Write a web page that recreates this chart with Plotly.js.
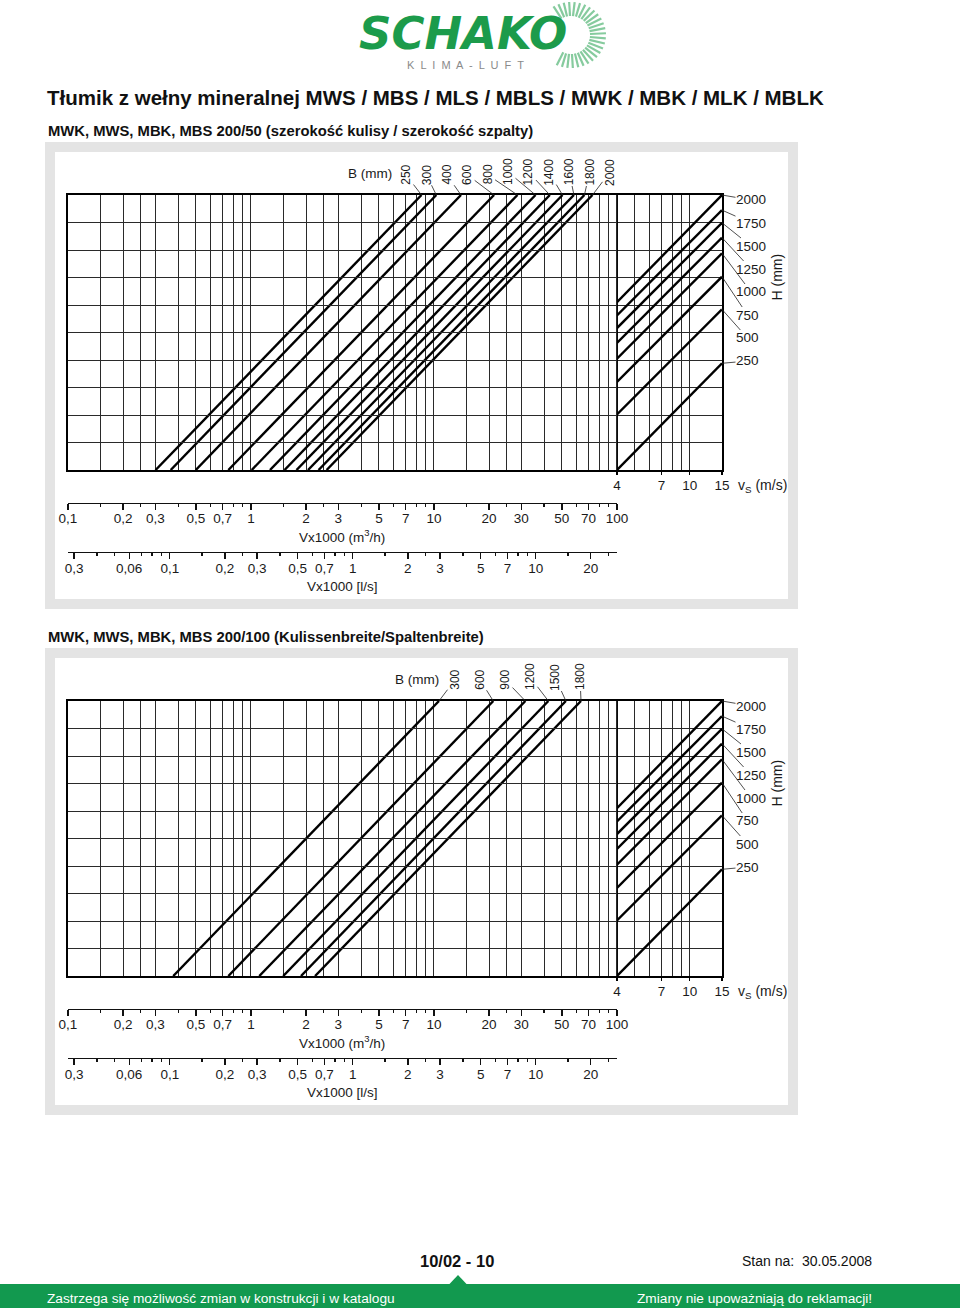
<!DOCTYPE html>
<html><head><meta charset="utf-8">
<script src="https://cdn.plot.ly/plotly-3.0.1.min.js"></script>
<style>html,body{margin:0;padding:0;background:#fff}#chart{width:960px;height:1308px}</style>
</head><body><div id="chart"></div>
<script>
// ================= DATA =================
// Chart 1: MWK, MWS, MBK, MBS 200/50 — B lines: flow Vx1000 (m3/h) at bottom and top edge
const bWidths1  = [250, 300, 400, 600, 800, 1000, 1200, 1400, 1600, 1800, 2000];
const bVBottom1 = [0.301, 0.364, 0.499, 0.752, 1.009, 1.27, 1.525, 1.773, 2.05, 2.34, 2.59];
const bVTop1    = [8.55, 10.3, 14.05, 21.3, 28.6, 35.9, 43.0, 50.4, 58.2, 66.4, 73.5];
// Chart 2: MWK, MWS, MBK, MBS 200/100
const bWidths2  = [300, 600, 900, 1200, 1500, 1800];
const bVBottom2 = [0.376, 0.752, 1.11, 1.50, 1.876, 2.24];
const bVTop2    = [10.65, 21.1, 31.6, 42.2, 52.6, 63.6];
// H lines (same in both charts), on the v_s scale between 4 and 15 m/s (grid units 0..10)
const hHeights  = [2000, 1750, 1500, 1250, 1000, 750, 500, 250];
const hYAtVs4   = [6.1, 5.62, 5.16, 4.62, 4.05, 3.2, 2.02, 0.0];
const hYAtVs15  = [10.0, 9.45, 8.99, 8.45, 7.88, 7.03, 5.84, 3.88];
const vsEnds    = [4, 15];
// grid / ticks
const gridV     = [0.1,0.15,0.2,0.25,0.3,0.4,0.5,0.6,0.7,0.8,0.9,1,1.5,2,2.5,3,4,5,6,7,8,9,10,15,20,25,30,40,50,60,70,80,90,100];
const vsTicks   = [4, 7, 10, 15];
const vsLabels  = ['4', '7', '10', '15'];
const vsMinor   = [5, 6, 8, 9];
const m3hTicks  = [0.1,0.2,0.3,0.5,0.7,1,2,3,5,7,10,20,30,50,70,100];
const m3hLabels = ['0,1','0,2','0,3','0,5','0,7','1','2','3','5','7','10','20','30','50','70','100'];
const m3hMinor  = [0.15,0.25,0.4,0.6,0.8,0.9,1.5,2.5,4,6,8,9,15,25,40,60,80,90];
const lsTicks   = [0.03,0.06,0.1,0.2,0.3,0.5,0.7,1,2,3,5,7,10,20];
const lsLabels  = ['0,3','0,06','0,1','0,2','0,3','0,5','0,7','1','2','3','5','7','10','20'];
const lsMinor   = [0.04,0.05,0.07,0.08,0.09,0.15,0.25,0.4,0.6,0.8,0.9,1.5,2.5,4,6,8,9,15,25];

// ================= LAYOUT GEOMETRY =================
const FONT = '"Liberation Sans Narrow", "Arial Narrow", "Liberation Sans", Arial, sans-serif';
const W = 960, H = 1308;
const PL = 68, PR = 722, TOP1 = 195, BOT1 = 470, DY2 = 506;
const X_MIN = 0.1, X_SPLIT = 100, Y_MAX = 10, M3H_PER_LS = 3.6;
const X_MAX = X_SPLIT * vsEnds[1] / vsEnds[0];
const LX0 = Math.log10(X_MIN), LX1 = Math.log10(X_MAX);
const xpx = v => PL + (Math.log10(v) - LX0) / (LX1 - LX0) * (PR - PL);
const SPLITPX = xpx(X_SPLIT);
const vspx = v => SPLITPX + Math.log10(v / vsEnds[0]) / Math.log10(vsEnds[1] / vsEnds[0]) * (PR - SPLITPX);
const ypx = (yv, k) => { const b = BOT1 + k * DY2, t = TOP1 + k * DY2; return b - yv / Y_MAX * (b - t); };
const px = x => x / W, py = y => 1 - y / H;

const traces = [], shapes = [], annotations = [];
const layout = {
  width: W, height: H, margin: {l: 0, r: 0, t: 0, b: 0},
  paper_bgcolor: '#ffffff', plot_bgcolor: 'rgba(0,0,0,0)',
  showlegend: false, hovermode: false,
  font: {family: FONT, size: 13.5, color: '#1a1a1a'}
};

function txt(x, y, text, opt) {
  annotations.push(Object.assign({xref: 'paper', yref: 'paper', x: px(x), y: py(y), text: text,
    showarrow: false, xanchor: 'center', yanchor: 'middle',
    font: {family: FONT, size: 13.5, color: '#1a1a1a'}}, opt || {}));
}
function pline(x0, y0, x1, y1, color, width) {
  shapes.push({type: 'line', xref: 'paper', yref: 'paper', x0: px(x0), y0: py(y0), x1: px(x1), y1: py(y1),
    line: {color: color, width: width}, layer: 'below'});
}

function buildChart(k, bWidths, bBot, bTop, bLabelX, bLabelBottom, bmmPos) {
  const ids = k === 0 ? {m: 'x', v: 'x2', a: 'x3', b: 'x4', y: 'y'} : {m: 'x5', v: 'x6', a: 'x7', b: 'x8', y: 'y2'};
  const ln = id => id.replace('x', 'xaxis').replace(/^y/, 'yaxis');
  const off = k * DY2;
  const yDom = [py(BOT1 + off), py(TOP1 + off)];
  const tickFont = {family: FONT, size: 13.5, color: '#1a1a1a'};

  // grey panel
  shapes.push({type: 'rect', xref: 'paper', yref: 'paper', x0: px(50), x1: px(793), y0: py(147 + off), y1: py(604 + off),
    line: {color: '#e4e4e4', width: 10}, fillcolor: '#ffffff', layer: 'below'});

  layout[ln(ids.m)] = {domain: [px(PL), px(PR)], anchor: ids.y, type: 'log', range: [LX0, LX1],
    tickmode: 'array', tickvals: gridV, showticklabels: false, ticks: '',
    showgrid: true, gridcolor: '#2a2a2a', gridwidth: 1, zeroline: false,
    showline: true, linecolor: '#000', linewidth: 2, mirror: true, fixedrange: true};
  layout[ln(ids.y)] = {domain: yDom, anchor: ids.m, range: [0, Y_MAX], dtick: 1, tick0: 0,
    showticklabels: false, ticks: '', showgrid: true, gridcolor: '#2a2a2a', gridwidth: 1, zeroline: false,
    showline: true, linecolor: '#000', linewidth: 2, mirror: true, fixedrange: true};
  layout[ln(ids.v)] = {domain: [px(SPLITPX), px(PR)], anchor: ids.y, type: 'log',
    range: [Math.log10(vsEnds[0]), Math.log10(vsEnds[1])],
    tickmode: 'array', tickvals: vsTicks, ticktext: vsLabels, ticks: 'outside', ticklen: 4, tickwidth: 1.3,
    tickcolor: '#000', tickfont: tickFont, ticklabelstandoff: -1,
    showgrid: true, gridcolor: '#2a2a2a', gridwidth: 1, showline: false, zeroline: false,
    minor: {tickmode: 'array', tickvals: vsMinor, showgrid: true, gridcolor: '#2a2a2a', gridwidth: 1, ticks: ''},
    fixedrange: true};
  layout[ln(ids.a)] = {domain: [px(PL), px(SPLITPX)], anchor: 'free', position: py(502.5 + off), type: 'log',
    range: [LX0, Math.log10(X_SPLIT)], tickmode: 'array', tickvals: m3hTicks, ticktext: m3hLabels,
    ticks: 'outside', ticklen: 6, tickwidth: 1.3, tickcolor: '#111', tickfont: tickFont, ticklabelstandoff: -3,
    showline: true, linecolor: '#111', linewidth: 1.3, showgrid: false, zeroline: false,
    minor: {tickmode: 'array', tickvals: m3hMinor, ticks: 'outside', ticklen: 3, tickwidth: 1.3, tickcolor: '#111', showgrid: false},
    fixedrange: true};
  layout[ln(ids.b)] = {domain: [px(PL), px(SPLITPX)], anchor: 'free', position: py(552 + off), type: 'log',
    range: [Math.log10(X_MIN / M3H_PER_LS), Math.log10(X_SPLIT / M3H_PER_LS)], tickmode: 'array', tickvals: lsTicks, ticktext: lsLabels,
    ticks: 'outside', ticklen: 6, tickwidth: 1.3, tickcolor: '#111', tickfont: tickFont, ticklabelstandoff: -3,
    showline: true, linecolor: '#111', linewidth: 1.3, showgrid: false, zeroline: false,
    minor: {tickmode: 'array', tickvals: lsMinor, ticks: 'outside', ticklen: 3, tickwidth: 1.3, tickcolor: '#111', showgrid: false},
    fixedrange: true};

  // B lines
  bWidths.forEach((b, i) => {
    traces.push({type: 'scatter', mode: 'lines', x: [bBot[i], bTop[i]], y: [0, Y_MAX], xaxis: ids.m, yaxis: ids.y,
      line: {color: '#000', width: 2.4}, hoverinfo: 'skip', name: 'B ' + b});
  });
  // region separator at v_s = 4
  traces.push({type: 'scatter', mode: 'lines', x: [vsEnds[0], vsEnds[0]], y: [0, Y_MAX], xaxis: ids.v, yaxis: ids.y,
    line: {color: '#000', width: 2}, hoverinfo: 'skip'});
  // H lines
  hHeights.forEach((h, i) => {
    traces.push({type: 'scatter', mode: 'lines', x: vsEnds, y: [hYAtVs4[i], hYAtVs15[i]], xaxis: ids.v, yaxis: ids.y,
      line: {color: '#000', width: 2.4}, hoverinfo: 'skip', name: 'H ' + h});
  });
  // carriers for the free flow axes
  traces.push({type: 'scatter', mode: 'markers', x: [1], y: [5], xaxis: ids.a, yaxis: ids.y, marker: {opacity: 0}, hoverinfo: 'skip'});
  traces.push({type: 'scatter', mode: 'markers', x: [1], y: [5], xaxis: ids.b, yaxis: ids.y, marker: {opacity: 0}, hoverinfo: 'skip'});

  // B labels with leaders
  const topY = ypx(Y_MAX, k);
  bWidths.forEach((b, i) => {
    const s = String(b);
    const cx = bLabelX[i], cy = bLabelBottom + off - s.length * 5.5 / 2;
    annotations.push({xref: ids.m, yref: ids.y, x: Math.log10(bTop[i]), y: Y_MAX, text: s, textangle: -90,
      showarrow: true, arrowhead: 0, arrowwidth: 0.8, arrowcolor: '#222', standoff: 0, startstandoff: 0,
      ax: cx - xpx(bTop[i]), ay: cy - topY, borderpad: 0,
      font: {family: FONT, size: 12, color: '#1a1a1a'}});
  });
  txt(bmmPos[0], bmmPos[1] + off, 'B (mm)', {font: {family: FONT, size: 13.5, color: '#1a1a1a'}});

  // H labels with leaders
  const hLabelY = [200, 223, 246, 269, 292, 315, 338, 361];
  hHeights.forEach((h, i) => {
    const s = String(h);
    const cx = 737 + s.length * 7 / 2, cy = hLabelY[i] + off;
    annotations.push({xref: ids.v, yref: ids.y, x: Math.log10(vsEnds[1]), y: hYAtVs15[i], text: s,
      showarrow: true, arrowhead: 0, arrowwidth: 0.8, arrowcolor: '#222', standoff: 0, startstandoff: 0,
      ax: cx - vspx(vsEnds[1]), ay: cy - ypx(hYAtVs15[i], k), borderpad: 0,
      font: {family: FONT, size: 13.5, color: '#1a1a1a'}});
  });
  txt(776.5, 277 + off, 'H (mm)', {textangle: -90, font: {family: FONT, size: 14, color: '#1a1a1a'}});
  txt(736, 486 + off, 'v<sub>S</sub> (m/s)', {xanchor: 'left', font: {family: FONT, size: 14, color: '#1a1a1a'}});
  txt(342, 536 + off, 'Vx1000 (m<sup>3</sup>/h)', {font: {family: FONT, size: 13.5, color: '#1a1a1a'}});
  txt(342, 586 + off, 'Vx1000 [l/s]', {font: {family: FONT, size: 13.5, color: '#1a1a1a'}});
}

buildChart(0, bWidths1, bVBottom1, bVTop1,
  [406, 426.4, 446.8, 467.2, 487.6, 508, 528.4, 548.8, 569.2, 589.6, 610], 183, [369.5, 174]);
buildChart(1, bWidths2, bVBottom2, bVTop2,
  [455, 480, 505, 530, 555, 580], 182, [417, 173]);

// ================= HEADINGS =================
txt(45, 98, 'Tłumik z wełny mineralnej MWS / MBS / MLS / MBLS / MWK / MBK / MLK / MBLK',
  {xanchor: 'left', font: {family: FONT, size: 20.5, color: '#111', weight: 'bold'}});
txt(46, 131, 'MWK, MWS, MBK, MBS 200/50 (szerokość kulisy / szerokość szpalty)',
  {xanchor: 'left', font: {family: FONT, size: 14.8, color: '#111', weight: 'bold'}});
txt(46, 637, 'MWK, MWS, MBK, MBS 200/100 (Kulissenbreite/Spaltenbreite)',
  {xanchor: 'left', font: {family: FONT, size: 14.8, color: '#111', weight: 'bold'}});

// ================= LOGO =================
const rayC = [571, 35];
for (let a = -120; a <= 120; a += 9) {
  const r = a * Math.PI / 180;
  pline(rayC[0] + 19 * Math.cos(r), rayC[1] + 19 * Math.sin(r), rayC[0] + 35 * Math.cos(r), rayC[1] + 33 * Math.sin(r), '#86cb9e', 2.2);
}
txt(357, 34, 'SCHAKO', {xanchor: 'left', font: {family: 'DejaVu Sans, sans-serif', size: 45, color: '#1c9b4b', weight: 'bold', style: 'italic'}});
txt(465, 65, 'K  L  I  M  A  -  L  U  F  T', {font: {family: 'Liberation Sans, sans-serif', size: 11, color: '#8a8a8a'}});

// ================= FOOTER =================
txt(457, 1261, '10/02 - 10', {font: {family: FONT, size: 16.5, color: '#111', weight: 'bold'}});
txt(740, 1261, 'Stan na:  30.05.2008', {xanchor: 'left', font: {family: FONT, size: 14, color: '#111'}});
shapes.push({type: 'rect', xref: 'paper', yref: 'paper', x0: 0, x1: 1, y0: 0, y1: py(1284), line: {width: 0}, fillcolor: '#12994f', layer: 'below'});
shapes.push({type: 'path', xref: 'paper', yref: 'paper',
  path: 'M ' + px(449) + ' ' + py(1284.5) + ' L ' + px(458) + ' ' + py(1275) + ' L ' + px(467) + ' ' + py(1284.5) + ' Z',
  line: {width: 0}, fillcolor: '#12994f', layer: 'below'});
txt(45, 1298, 'Zastrzega się możliwość zmian w konstrukcji i w katalogu', {xanchor: 'left', font: {family: FONT, size: 13.7, color: '#ffffff'}});
txt(635, 1298, 'Zmiany nie upoważniają do reklamacji!', {xanchor: 'left', font: {family: FONT, size: 13.7, color: '#ffffff'}});

layout.shapes = shapes;
layout.annotations = annotations;
Plotly.newPlot('chart', traces, layout, {staticPlot: true, displayModeBar: false});
</script>
</body></html>
